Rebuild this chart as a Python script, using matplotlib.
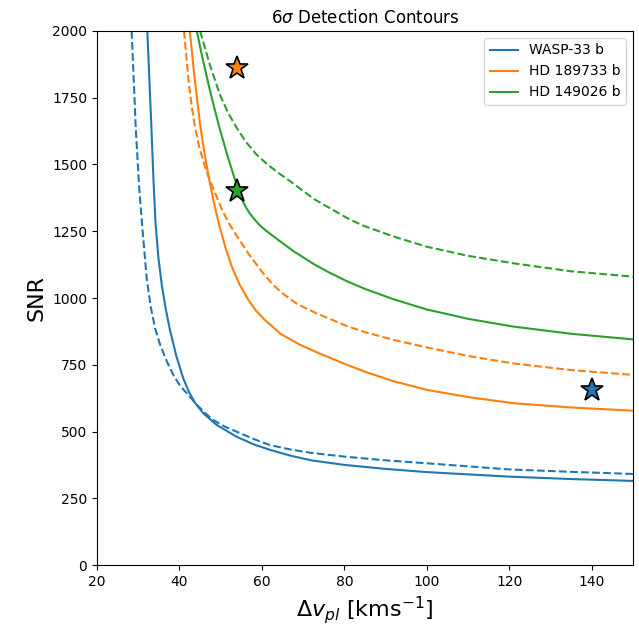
import matplotlib
matplotlib.use('Agg')
import matplotlib.pyplot as plt

# Values (delta v in km/s, SNR)
# solid = one contour, dashed = the other, per planet
wasp_x = [32.2, 32.7, 33.2, 33.7, 34.2, 34.9, 35.7, 36.6, 37.7, 39.2, 40.9, 42.3, 43.8,
          45.8, 49.0, 53.9, 58, 62.0, 66.8, 72, 80, 90, 100, 120, 135, 150]
wasp_y = [2000, 1820, 1637, 1440, 1280, 1150, 1050, 965, 880, 785, 700, 648, 607,
          568, 525, 480, 452, 431, 410, 392, 375, 360, 348, 331, 322, 315]
wasp_dx = [28.4, 28.9, 29.4, 30.2, 31.0, 32.05, 33.0, 34.07, 35.3, 36.9, 38.5, 40.2, 42.1,
           43.8, 46, 48.2, 50.8, 53.9, 58, 62, 66.8, 72, 80, 90, 100, 120, 135, 150]
wasp_dy = [2000, 1820, 1637, 1420, 1262, 1075, 970, 888, 825, 764, 712, 670, 638,
           607, 572, 543, 520, 499, 472, 449, 433, 420, 406, 392, 381, 358, 349, 341]

hd189_x = [42.5, 43.7, 45.0, 46.2, 47.4, 48.6, 49.7, 51.1, 52.7, 54.6, 56.7, 58.6, 60.7,
           64.6, 69.2, 74, 80.6, 85, 92, 100, 110, 121, 135, 150]
hd189_y = [2000, 1820, 1650, 1530, 1430, 1340, 1270, 1192, 1117, 1050, 993, 952, 918,
           865, 825, 792, 750, 724, 688, 656, 629, 606, 590, 578]
hd189_dx = [41.1, 42.3, 43.0, 43.8, 44.8, 45.8, 47.0, 48.2, 50.2, 51.8, 53.5, 56.7, 58.7, 60.7,
            62.6, 64.6, 68.5, 72.9, 80.6, 85, 92, 100, 110, 121, 135, 150]
hd189_dy = [2000, 1800, 1715, 1637, 1565, 1512, 1455, 1410, 1335, 1285, 1242, 1167, 1125, 1085,
            1052, 1022, 978, 945, 895, 872, 843, 815, 783, 755, 730, 712]

hd149_x = [44.2, 45.5, 47.0, 48.4, 49.8, 51.8, 53.9, 55, 56, 57, 58, 59.5, 61, 64.6, 67.6, 72.7,
           76, 80.6, 85, 92, 100, 110, 121, 135, 150]
hd149_y = [2000, 1905, 1803, 1715, 1632, 1525, 1422, 1375, 1343, 1318, 1298, 1272, 1252, 1210, 1176,
           1126, 1098, 1063, 1034, 995, 957, 922, 893, 866, 845]
hd149_dx = [45.0, 47.4, 49.8, 51.8, 53.9, 56.2, 58.7, 61.5, 64.4, 66.8, 72.7, 80.6, 84.2, 92,
            100, 110, 121, 135, 150]
hd149_dy = [2000, 1872, 1762, 1693, 1637, 1583, 1537, 1498, 1464, 1438, 1370, 1300, 1273, 1230,
            1192, 1158, 1130, 1100, 1080]

# observed planets (stars)
star_x = [140, 54, 54]
star_y = [655, 1860, 1400]
colors = ['tab:blue', 'tab:orange', 'tab:green']

fig = plt.figure(figsize=(6.39, 6.26), dpi=100)
ax = fig.add_axes([0.1518, 0.0974, 0.8388, 0.8531])

ax.plot(wasp_x, wasp_y, color=colors[0], label='WASP-33 b')
ax.plot(wasp_dx, wasp_dy, color=colors[0], linestyle='--')
ax.plot(hd189_x, hd189_y, color=colors[1], label='HD 189733 b')
ax.plot(hd189_dx, hd189_dy, color=colors[1], linestyle='--')
ax.plot(hd149_x, hd149_y, color=colors[2], label='HD 149026 b')
ax.plot(hd149_dx, hd149_dy, color=colors[2], linestyle='--')

for sx, sy, c in zip(star_x, star_y, colors):
    ax.plot(sx, sy, marker='*', markersize=17, color=c, markeredgecolor='black',
            markeredgewidth=1.2, linestyle='none')

ax.set_xlim(20, 150)
ax.set_ylim(0, 2000)
ax.set_xlabel(r'$\Delta v_{pl}$ [kms$^{-1}$]', fontsize=16)
ax.set_ylabel('SNR', fontsize=16)
ax.set_title(r'6$\sigma$ Detection Contours')
ax.legend(loc='upper right')

fig.savefig('out.png', dpi=100)
